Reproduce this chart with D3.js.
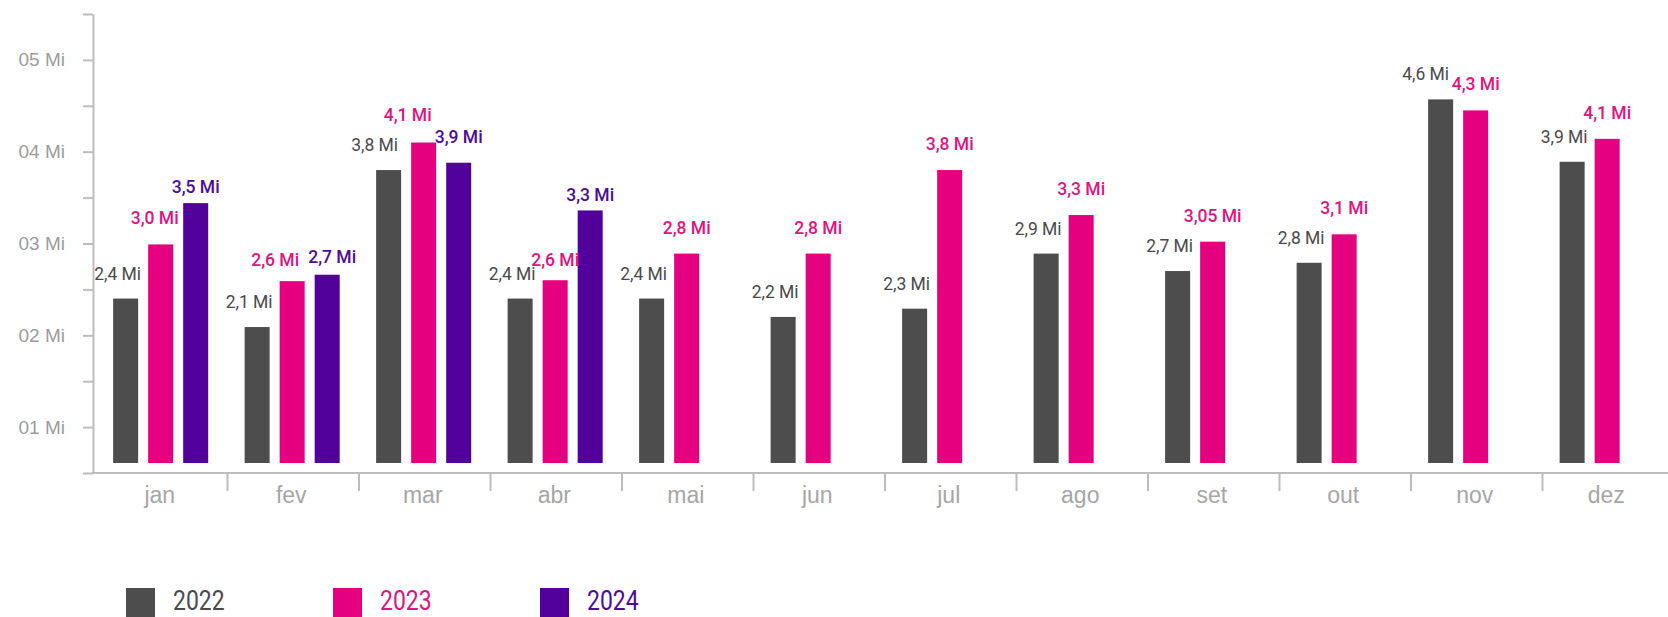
<!DOCTYPE html>
<html>
<head>
<meta charset="utf-8">
<script src="https://cdn.jsdelivr.net/npm/d3@7"></script>
<style>
  html, body { margin: 0; padding: 0; background: #fff; }
  svg { display: block; font-family: Roboto, "Noto Sans", sans-serif; }
</style>
</head>
<body>
<div class="chart"></div>
<script>
// values (millions), labels as printed on the chart
var months = ["jan", "fev", "mar", "abr", "mai", "jun", "jul", "ago", "set", "out", "nov", "dez"];
var years = ["2022", "2023", "2024"];

var values2022 = [2.40, 2.09, 3.80, 2.40, 2.40, 2.20, 2.29, 2.89, 2.70, 2.79, 4.57, 3.89];
var values2023 = [2.99, 2.59, 4.10, 2.60, 2.89, 2.89, 3.80, 3.31, 3.02, 3.10, 4.45, 4.14];
var values2024 = [3.44, 2.66, 3.88, 3.36, null, null, null, null, null, null, null, null];

var labels2022 = ["2,4 Mi", "2,1 Mi", "3,8 Mi", "2,4 Mi", "2,4 Mi", "2,2 Mi", "2,3 Mi", "2,9 Mi", "2,7 Mi", "2,8 Mi", "4,6 Mi", "3,9 Mi"];
var labels2023 = ["3,0 Mi", "2,6 Mi", "4,1 Mi", "2,6 Mi", "2,8 Mi", "2,8 Mi", "3,8 Mi", "3,3 Mi", "3,05 Mi", "3,1 Mi", "4,3 Mi", "4,1 Mi"];
var labels2024 = ["3,5 Mi", "2,7 Mi", "3,9 Mi", "3,3 Mi", null, null, null, null, null, null, null, null];

var yTicks = [1, 2, 3, 4, 5];

var width = 1668,
    height = 617;

var barColors = { "2022": "#4d4d4d", "2023": "#e4007e", "2024": "#51009c" };
var textColors = { "2022": "#4a4a4a", "2023": "#e0137f", "2024": "#4c0b98" };

// hand nudges so labels don't collide (dx, dy in px)
var nudge = {
  "jan-2023": [-6, 0], "jan-2024": [0, 10],
  "fev-2023": [-17, 5], "fev-2024": [5, 8],
  "mar-2022": [-6, 0], "mar-2023": [-16, -2],
  "abr-2023": [0, 6], "abr-2024": [0, 11],
  "nov-2022": [-7, 0]
};

var series = [values2022, values2023, values2024];
var labelSets = [labels2022, labels2023, labels2024];

var rows = [];
months.forEach(function(m, i) {
  years.forEach(function(yr, j) {
    if (series[j][i] != null) {
      rows.push({ month: m, year: yr, value: series[j][i], label: labelSets[j][i] });
    }
  });
});

var svg = d3.select(".chart").append("svg")
    .attr("width", width)
    .attr("height", height);

var x = d3.scaleBand()
    .domain(months)
    .range([96, 1674])
    .padding(0);

var xInner = d3.scaleBand()
    .domain(years)
    .range([0, x.bandwidth()])
    .paddingInner(0.286)
    .paddingOuter(0.52)
    .align(0.47);

var y = d3.scaleLinear()
    .domain([0.5, 5.5])
    .range([473, 14]);

var axisY = y(0.5),
    barBottom = axisY - 10;

// y axis
var yAxis = svg.append("g")
    .attr("transform", "translate(93,0)")
    .call(d3.axisLeft(y)
      .tickValues(d3.range(0.5, 5.51, 0.5))
      .tickSize(10)
      .tickSizeOuter(0)
      .tickPadding(18)
      .tickFormat(function(d) { return yTicks.indexOf(d) >= 0 ? "0" + d + " Mi" : ""; }));

yAxis.select(".domain").attr("stroke", "#bdbdbd").attr("stroke-width", 2);
yAxis.selectAll(".tick line").attr("stroke", "#bdbdbd").attr("stroke-width", 2);
yAxis.selectAll(".tick text")
    .attr("fill", "#9c9c9c")
    .style("font-size", "19px")
    .attr("font-family", null);

// x axis
var xAxis = svg.append("g")
    .attr("transform", "translate(0," + axisY + ")")
    .call(d3.axisBottom(x).tickSize(0).tickPadding(14));

xAxis.select(".domain").remove();
xAxis.selectAll(".tick text")
    .attr("fill", "#a6a6a6")
    .attr("dx", "-2")
    .style("font-size", "23px")
    .attr("font-family", null);

svg.append("line")
    .attr("x1", 92).attr("x2", width)
    .attr("y1", axisY).attr("y2", axisY)
    .attr("stroke", "#bdbdbd")
    .attr("stroke-width", 2);

svg.append("g").selectAll("line")
    .data(months.slice(1))
  .enter().append("line")
    .attr("x1", function(d) { return x(d); })
    .attr("x2", function(d) { return x(d); })
    .attr("y1", axisY)
    .attr("y2", axisY + 18)
    .attr("stroke", "#bdbdbd")
    .attr("stroke-width", 2);

// bars
svg.append("g").selectAll("rect")
    .data(rows)
  .enter().append("rect")
    .attr("x", function(d) { return x(d.month) + xInner(d.year); })
    .attr("y", function(d) { return y(d.value); })
    .attr("width", xInner.bandwidth())
    .attr("height", function(d) { return barBottom - y(d.value); })
    .attr("fill", function(d) { return barColors[d.year]; });

// value labels
svg.append("g").selectAll("text")
    .data(rows)
  .enter().append("text")
    .attr("x", function(d) {
      var left = x(d.month) + xInner(d.year);
      var n = nudge[d.month + "-" + d.year] || [0, 0];
      if (d.year === "2022") return left + xInner.bandwidth() + 3 + n[0];
      return left + xInner.bandwidth() / 2 + n[0];
    })
    .attr("y", function(d) {
      var n = nudge[d.month + "-" + d.year] || [0, 0];
      return y(d.value) - (d.year === "2022" ? 19 : 20) + n[1];
    })
    .attr("text-anchor", function(d) { return d.year === "2022" ? "end" : "middle"; })
    .attr("fill", function(d) { return textColors[d.year]; })
    .style("font-size", "17.5px")
    .style("font-weight", function(d) { return d.year === "2022" ? 400 : 500; })
    .text(function(d) { return d.label; });

// legend
var legend = svg.append("g").selectAll("g")
    .data(years)
  .enter().append("g")
    .attr("transform", function(d, i) { return "translate(" + (126 + i * 207) + ",588)"; });

legend.append("rect")
    .attr("width", 29)
    .attr("height", 29)
    .attr("fill", function(d) { return barColors[d]; });

legend.append("text")
    .attr("transform", "translate(47,22) scale(0.82,1)")
    .attr("fill", function(d) { return textColors[d]; })
    .style("font-size", "28px")
    .text(function(d) { return d; });
</script>
</body>
</html>
